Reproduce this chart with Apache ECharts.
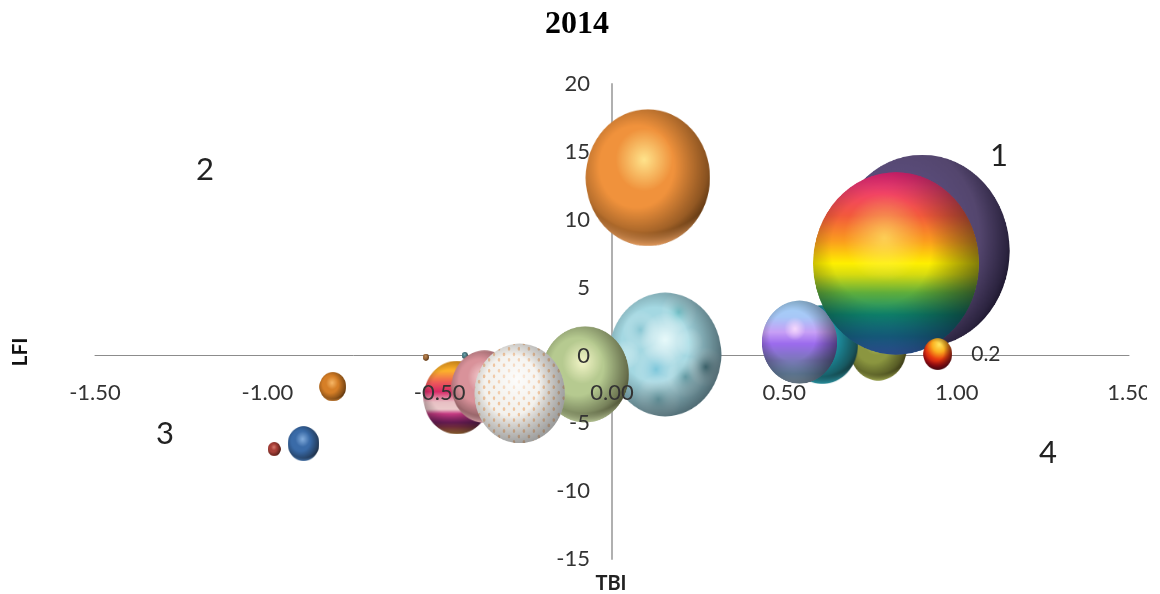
<!DOCTYPE html>
<html>
<head>
<meta charset="utf-8">
<style>
  html, body { margin: 0; padding: 0; background: #fff; overflow: hidden; }
  #chart { width: 1147px; height: 594px; }
</style>
<script src="https://cdn.jsdelivr.net/npm/echarts@6/dist/echarts.min.js"></script>
</head>
<body>
<div id="chart"></div>
<script>
// Bubble table for 2014, listed back to front
const bubbleSkins = ['orange','ice','green','tinyTeal','stripes','pink','dotted','tinyBrown','amber','brick','blue','purple','olive','teal','lavender','rainbow','fire'];
const tbi  = [0.104, 0.154, -0.078, -0.427, -0.45, -0.37, -0.268, -0.54, -0.81, -0.98, -0.895, 0.90, 0.772, 0.61, 0.544, 0.824, 0.945];
const lfi  = [13.1, 0.07, -1.4, 0.0, -3.1, -2.3, -2.8, -0.13, -2.3, -6.9, -6.5, 7.7, 0.45, 0.8, 0.98, 6.78, 0.1];
const size = [3.72, 3.04, 1.84, 0.01, 1.07, 1.04, 1.97, 0.01, 0.17, 0.04, 0.24, 7.37, 0.77, 1.23, 1.37, 6.63, 0.2];
const labelledSkin = 'fire';

const tbiRange = [-1.5, 1.5];
const lfiRange = [-15, 20];
const quadrantLabels = ['1', '2', '3', '4'];

const INK = '#333';
const SANS = 'Lato, "Open Sans", sans-serif';
const S = 320;

// Plot box; the tick labels are pulled in from its edges to the zero lines
const GRID = { left: 95, top: 84, width: 1034, height: 475 };
const xLabelShift = GRID.height * 15 / 35;
const yLabelShift = GRID.width / 2;

// Flat sphere colours: [highlight, middle, dark, bottom lip]
const plainSkins = {
  orange:    ['#ffe48c', '#f0923c', '#8a5018', '#f2a666'],
  green:     ['#f4f6c8', '#b6ca90', '#6c7c50', '#c4d4a2'],
  pink:      ['#f8d4d6', '#d9929a', '#84525a', '#e8b0b6'],
  teal:      ['#5fc3cf', '#1f8fa0', '#0d4a58', '#2e9cac'],
  olive:     ['#bcc66a', '#8b9640', '#4c5420', '#a3ad52'],
  amber:     ['#f8b868', '#d67f27', '#6e4214', '#d8893a'],
  brick:     ['#d87c70', '#a83f38', '#5a1f1c', '#b04c44'],
  blue:      ['#84aede', '#3a6ba8', '#183a66', '#4a7cb8'],
  tinyBrown: ['#c99868', '#a06c3c', '#5c3c1c', '#a87448'],
  tinyTeal:  ['#80b0b8', '#4c8088', '#285058', '#5c909a']
};

function radial(ctx, cx, cy, r0, r1, stops) {
  const g = ctx.createRadialGradient(cx * S, cy * S, r0 * S, cx * S, cy * S, r1 * S);
  stops.forEach(s => g.addColorStop(s[0], s[1]));
  return g;
}

function vertical(ctx, stops) {
  const g = ctx.createLinearGradient(0, 0, 0, S);
  stops.forEach(s => g.addColorStop(s[0], s[1]));
  return g;
}

function wash(ctx, style) {
  ctx.fillStyle = style;
  ctx.fillRect(0, 0, S, S);
}

// Each painter fills the square; the sphere clip is already in place.
const painters = {
  rainbow(ctx) {
    wash(ctx, vertical(ctx, [[0, '#f4247e'], [0.08, '#f23c72'], [0.24, '#f25a3c'], [0.38, '#fb9e1e'], [0.5, '#fff000'], [0.56, '#d8dc10'], [0.66, '#5fae3c'], [0.78, '#0f8c74'], [0.9, '#1c7ca8'], [1, '#4a84f4']]));
    wash(ctx, radial(ctx, 0.43, 0.36, 0, 0.24, [[0, 'rgba(255,245,120,0.6)'], [1, 'rgba(255,245,120,0)']]));
  },
  stripes(ctx) {
    wash(ctx, vertical(ctx, [[0, '#f4a020'], [0.14, '#fdb22c'], [0.3, '#ee5a5a'], [0.42, '#d82a68'], [0.56, '#e8c0c4'], [0.66, '#eccccc'], [0.72, '#c83c84'], [0.84, '#7c2064'], [0.9, '#a03c50'], [1, '#f0a040']]));
  },
  lavender(ctx) {
    wash(ctx, vertical(ctx, [[0, '#a4d2f6'], [0.2, '#a8c8f8'], [0.38, '#c8a0f6'], [0.52, '#9c6cee'], [0.72, '#7a78b8'], [0.88, '#7c9cc0'], [1, '#b4cce0']]));
    wash(ctx, radial(ctx, 0.44, 0.34, 0, 0.14, [[0, 'rgba(255,225,255,0.85)'], [1, 'rgba(255,225,255,0)']]));
  },
  fire(ctx) {
    wash(ctx, radial(ctx, 0.55, 0.2, 0, 0.85, [[0, '#ffe860'], [0.28, '#fcb020'], [0.55, '#e83c10'], [0.8, '#b00c14'], [1, '#6a0410']]));
  },
  purple(ctx) {
    wash(ctx, radial(ctx, 0.34, 0.42, 0.2, 0.72, [[0, '#5e5082'], [0.55, '#54466e'], [0.85, '#2c2440'], [1, '#0e0a1c']]));
  },
  dotted(ctx) {
    wash(ctx, '#f4f2ee');
    ctx.fillStyle = '#efc49e';
    const step = 35;
    for (let row = 0; row * step / 2 < S + step; row++) {
      for (let col = 0; col * step < S + step; col++) {
        ctx.beginPath();
        ctx.ellipse(col * step + (row % 2 ? step / 2 : 0), row * step / 2, 4.5, 6, 0, 0, Math.PI * 2);
        ctx.fill();
      }
    }
    wash(ctx, radial(ctx, 0.47, 0.36, 0, 0.3, [[0, 'rgba(255,255,255,0.8)'], [1, 'rgba(255,255,255,0)']]));
  },
  ice(ctx) {
    wash(ctx, '#a4d8e2');
    // Frosted patches on the surface: [x, y, radius, colour]
    const patches = [
      [0.62, 0.16, 0.16, 'rgba(80,185,190,0.55)'], [0.28, 0.3, 0.16, 'rgba(115,185,200,0.55)'],
      [0.5, 0.38, 0.22, 'rgba(235,252,252,0.95)'], [0.72, 0.4, 0.12, 'rgba(190,235,240,0.5)'],
      [0.42, 0.62, 0.2, 'rgba(100,188,215,0.6)'], [0.68, 0.68, 0.17, 'rgba(80,150,160,0.6)'],
      [0.44, 0.86, 0.2, 'rgba(100,165,175,0.65)'], [0.16, 0.5, 0.12, 'rgba(205,238,240,0.6)'],
      [0.86, 0.6, 0.16, 'rgba(50,105,115,0.7)']
    ];
    patches.forEach(p => wash(ctx, radial(ctx, p[0], p[1], 0, p[2], [[0, p[3]], [1, 'rgba(255,255,255,0)']])));
  }
};

function paintSphere(skin) {
  const cv = document.createElement('canvas');
  cv.width = cv.height = S;
  const ctx = cv.getContext('2d');
  ctx.beginPath();
  ctx.arc(S / 2, S / 2, S / 2 - 1, 0, Math.PI * 2);
  ctx.clip();

  const plain = plainSkins[skin];
  if (plain) {
    wash(ctx, radial(ctx, 0.47, 0.37, 0, 0.72, [[0, plain[0]], [0.32, plain[1]], [0.72, plain[1]], [1, plain[2]]]));
  } else {
    painters[skin](ctx);
  }

  // edge falloff, heavier toward the lower right
  const edge = skin === 'dotted' ? 'rgba(60,66,72,0.6)' : skin === 'purple' ? 'rgba(0,0,0,0)' : plain ? 'rgba(25,12,0,0.72)' : 'rgba(10,18,28,0.72)';
  wash(ctx, radial(ctx, 0.41, 0.42, 0.3, 0.72, [[0, 'rgba(0,0,0,0)'], [1, edge]]));

  // lighter lip along the lower edge goes on last
  if (plain) {
    wash(ctx, radial(ctx, 0.5, 0.22, 0.68, 0.79, [[0, plain[3] + '00'], [1, plain[3]]]));
  }
  return 'image://' + cv.toDataURL('image/png');
}

const sphereImages = {};
bubbleSkins.forEach(s => { sphereImages[s] = paintSphere(s); });

const points = bubbleSkins.map((skin, i) => {
  const item = { value: [tbi[i], lfi[i], size[i]], symbol: sphereImages[skin] };
  if (skin === labelledSkin) {
    item.label = {
      show: true, position: 'right', distance: 19,
      formatter: p => String(p.value[2]),
      fontFamily: SANS, fontSize: 21, color: INK
    };
  }
  return item;
});

// Area-proportional bubbles, slightly taller than wide
const bubbleSize = v => {
  const w = 64.8 * Math.sqrt(v[2]);
  return [w, w * 1.1];
};

function quadrantText(text, x, y) {
  return {
    type: 'text', x, y,
    style: { text, fill: '#222', font: '31px ' + SANS, textAlign: 'center', textVerticalAlign: 'middle' }
  };
}
const quadrantSpots = [[999, 156], [205, 170], [165, 434], [1048, 453]];

const labelAxisStyle = { fontFamily: SANS, fontSize: 22, color: INK };

const option = {
  animation: false,
  backgroundColor: '#fff',
  grid: { ...GRID, containLabel: false, outerBoundsMode: 'none' },
  title: {
    text: '2014', left: 572, top: 4, textAlign: 'center',
    textStyle: { fontFamily: '"Liberation Serif", serif', fontWeight: 'bold', fontSize: 32, color: '#000' }
  },
  xAxis: [
    // labels sit above the bubbles, the lines below them
    {
      type: 'value', min: tbiRange[0], max: tbiRange[1], interval: 0.5, z: 6,
      position: 'bottom', offset: -xLabelShift,
      axisLine: { show: false, onZero: false },
      axisTick: { show: false }, splitLine: { show: false },
      axisLabel: { ...labelAxisStyle, margin: 26, hideOverlap: false, showMinLabel: true, showMaxLabel: true, formatter: v => v.toFixed(2) }
    },
    {
      type: 'value', min: tbiRange[0], max: tbiRange[1], interval: 0.5, position: 'top', z: 0,
      axisLine: { show: true, onZero: true, onZeroAxisIndex: 0, lineStyle: { color: '#8c8c8c', width: 1 } },
      axisTick: { show: false }, splitLine: { show: false }, axisLabel: { show: false }
    }
  ],
  yAxis: [
    {
      type: 'value', min: lfiRange[0], max: lfiRange[1], interval: 5, z: 6,
      position: 'left', offset: -yLabelShift,
      axisLine: { show: false, onZero: false },
      axisTick: { show: false }, splitLine: { show: false },
      axisLabel: { ...labelAxisStyle, margin: 22, padding: [4, 0, 0, 0], showMinLabel: true, showMaxLabel: true }
    },
    {
      type: 'value', min: lfiRange[0], max: lfiRange[1], interval: 5, position: 'right', z: 0,
      axisLine: { show: true, onZero: true, onZeroAxisIndex: 0, lineStyle: { color: '#b0b0b0', width: 2 } },
      axisTick: { show: false }, splitLine: { show: false }, axisLabel: { show: false }
    }
  ],
  series: [{
    type: 'scatter', xAxisIndex: 0, yAxisIndex: 0, z: 3,
    symbolSize: bubbleSize, data: points, clip: false,
    itemStyle: { opacity: 1 }
  }],
  graphic: [
    ...quadrantLabels.map((t, i) => quadrantText(t, quadrantSpots[i][0], quadrantSpots[i][1])),
    { type: 'text', x: 611, y: 584, style: { text: 'TBI', fill: '#222', font: 'bold 20px ' + SANS, textAlign: 'center', textVerticalAlign: 'middle' } },
    { type: 'text', x: 20, y: 352, rotation: Math.PI / 2, style: { text: 'LFI', fill: '#111', font: 'bold 21px ' + SANS, textAlign: 'center', textVerticalAlign: 'middle' } }
  ]
};

const chart = echarts.init(document.getElementById('chart'), null, { renderer: 'canvas' });
chart.setOption(option);
</script>
</body>
</html>
